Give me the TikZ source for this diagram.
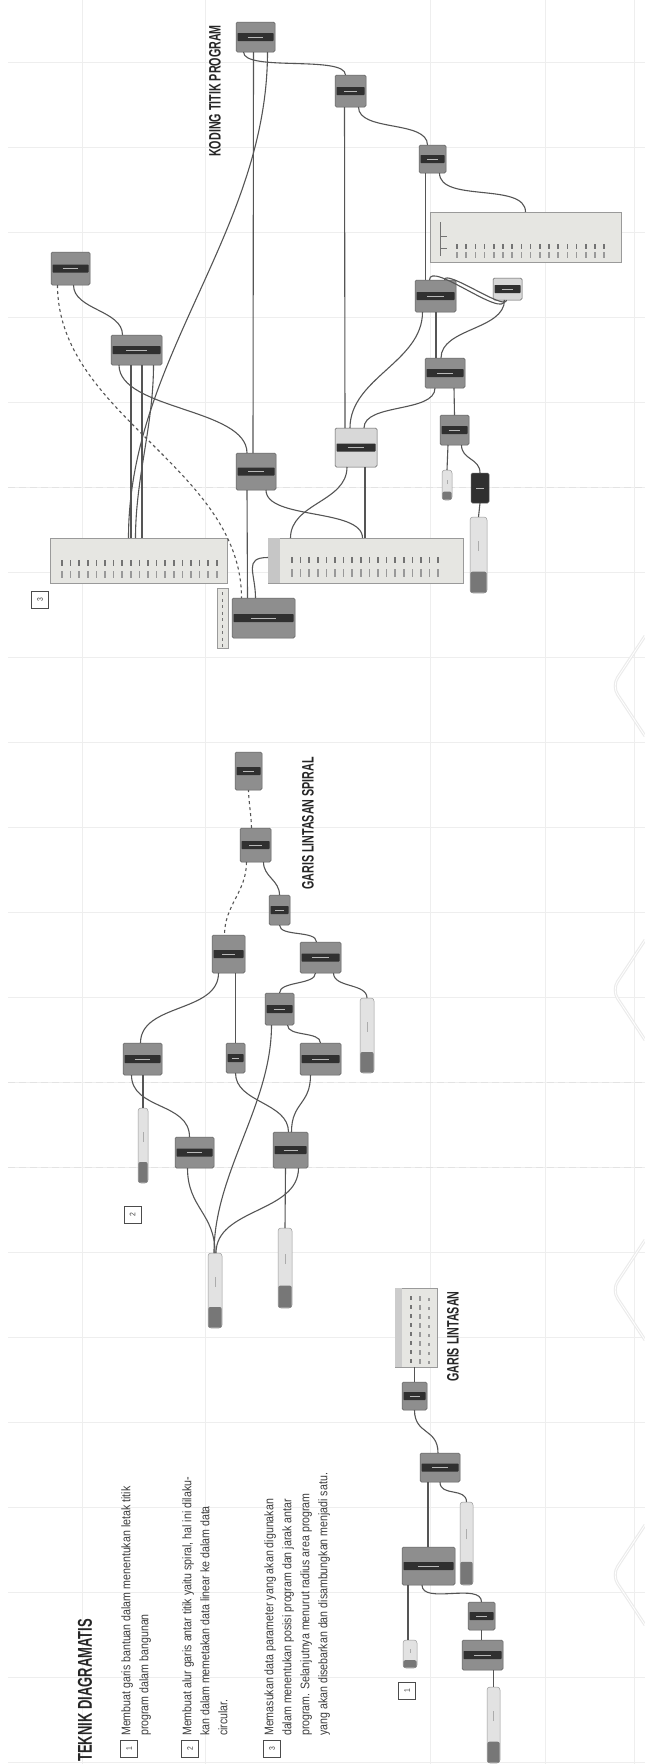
\documentclass[tikz,border=0pt]{standalone}
\usepackage{fontspec}
\setmainfont{Liberation Sans}
\newfontfamily\tegakfont[FakeStretch=0.65]{Liberation Sans}
\newfontfamily\isifont[FakeStretch=0.85]{Liberation Sans}
\usepackage{tikz}
\usetikzlibrary{calc}
\definecolor{ckabel}{HTML}{555555}
\definecolor{ckomp}{HTML}{8E8E8E}
\definecolor{ckompg}{HTML}{5E5E5E}
\definecolor{ckompl}{HTML}{D8D8D8}
\definecolor{cbar}{HTML}{303030}
\definecolor{cpanel}{HTML}{E6E6E2}
\definecolor{cpanelg}{HTML}{9A9A9A}
\definecolor{cgeser}{HTML}{E2E2E2}
\definecolor{cgeserd}{HTML}{777777}
\definecolor{cgaris}{HTML}{EEEEEE}
\definecolor{cteks}{HTML}{3C3C3C}
\tikzset{
  komp/.style={rectangle, rounded corners=1.5pt, draw=ckompg, fill=ckomp, line width=0.5pt, inner sep=0pt, outer sep=0pt},
  kompl/.style={komp, fill=ckompl},
  kompd/.style={komp, fill=cbar},
  bilah/.style={fill=cbar, rounded corners=0.6pt},
  tanda/.style={draw=gray!55, line width=1pt},
  tandag/.style={draw=gray!65, line width=1pt},
  tandap/.style={draw=black!55, line width=1.5pt},
  geser/.style={rectangle, rounded corners=3pt, draw=cpanelg, fill=cgeser, line width=0.5pt, inner sep=0pt, outer sep=0pt},
  panel/.style={rectangle, draw=cpanelg, fill=cpanel, line width=0.5pt, inner sep=0pt, outer sep=0pt},
  kabel/.style={draw=ckabel, line width=1.1pt, to path={.. controls +(0,#1) and +(0,-#1) .. (\tikztotarget)}},
  kabel/.default=25,
  garis/.style={draw=cgaris, line width=0.6pt},
  garisp/.style={draw=gray!22, line width=0.7pt, dash pattern=on 7pt off 4pt},
  hiasan/.style={draw=gray!16, line width=3pt, rounded corners=10pt},
  judul/.style={font=\tegakfont\bfseries\fontsize{20}{20}\selectfont, text=black!85, rotate=90, anchor=west, inner sep=0pt},
  judulkecil/.style={font=\tegakfont\bfseries\fontsize{16.5}{16.5}\selectfont, text=black!85, rotate=90, anchor=west, inner sep=0pt},
  uraian/.style={font=\isifont\fontsize{12.5}{18}\selectfont, text=cteks, rotate=90, anchor=north west, inner sep=0pt, align=left},
  kotaknomor/.style={rectangle, draw=black!70, line width=0.6pt, minimum size=17pt, inner sep=0pt, font=\isifont\fontsize{8}{8}\selectfont, text=black!75, rotate=90},
}
\newcommand{\komp}[6][komp]{%
  \node[#1, minimum width={(#5-#3)*1pt}, minimum height={(#6-#4)*1pt}] (#2) at ({(#3+#5)/2},{(#4+#6)/2}) {};
  \fill[bilah] ([xshift=1.5pt,yshift=-4pt]#2.west) rectangle ([xshift=-1.5pt,yshift=4pt]#2.east);
  \draw[tanda] ([xshift={-0.2*(#5-#3)*1pt}]#2.center) -- ([xshift={0.2*(#5-#3)*1pt}]#2.center);
}
\newcommand{\penggeser}[5]{%
  \node[geser, minimum width={(#4-#2)*1pt}, minimum height={(#5-#3)*1pt}] (#1) at ({(#2+#4)/2},{(#3+#5)/2}) {};
  \fill[cgeserd, rounded corners=2pt] ([xshift=0.3pt,yshift=0.3pt]#1.south west) rectangle ([xshift=-0.3pt,yshift={0.28*(#5-#3)*1pt}]#1.south east);
  \draw[tandag] ([yshift={0.55*(#5-#3)*1pt}]#1.south) -- ([yshift={0.68*(#5-#3)*1pt}]#1.south);
}
\newcommand{\panelnode}[5]{%
  \node[panel, minimum width={(#4-#2)*1pt}, minimum height={(#5-#3)*1pt}] (#1) at ({(#2+#4)/2},{(#3+#5)/2}) {};
}

\begin{document}
\begin{tikzpicture}[x=1pt, y=-1pt]
  \useasboundingbox (0,0) rectangle (645,1764);
  \fill[white] (0,0) rectangle (645,1764);
  % latar
  \foreach \gy in {62,147,...,1762} \draw[garis] (8,\gy) -- (645,\gy);
  \foreach \gx in {82,205,430,545,634} \draw[garis] (\gx,0) -- (\gx,1764);
  \foreach \gy in {487,1082,1167} \draw[garisp] (8,\gy) -- (645,\gy);
  \foreach \cy in {686,990,1290,1575} {
    \draw[hiasan] (645,\cy-50) -- (612,\cy) -- (645,\cy+50);
    \draw[white, line width=0.8pt, rounded corners=10pt] (645,\cy-50) -- (612,\cy) -- (645,\cy+50);
  }

  % KODING TITIK PROGRAM
  \komp{n1}{236}{22}{275}{52}
  \komp{n2}{335}{75}{366}{107}
  \komp{n3}{419}{145}{446}{173}
  \panelnode{p1}{430}{212}{621}{262}
  \draw[tandap, line width=0.6pt] (440,222) -- (440,256) (440,236) -- (447,236) (440,248) -- (447,248);
  \foreach \kol in {0,...,16} {
    \draw[tandap] (457+9.2*\kol,244) -- ++(0,5);
    \draw[tandap, draw=black!40] (457+9.2*\kol,252) -- ++(0,6);
  }
  \komp[kompl]{n4}{493}{278}{522}{300}
  \komp{n5}{415}{280}{456}{312}
  \komp{n6}{425}{358}{465}{388}
  \komp{n7}{440}{415}{469}{445}
  \penggeser{s1}{442}{470}{452}{500}
  \komp[kompd]{n8}{471}{473}{489}{503}
  \penggeser{s2}{470}{517}{487}{593}
  \komp[kompl]{nl}{335}{428}{377}{467}
  \komp{n9}{236}{453}{276}{490}
  \komp{n10}{51}{252}{90}{285}
  \komp{n11}{111}{335}{162}{365}
  \panelnode{t1}{50}{538}{227}{583}
  \panelnode{t2}{268}{538}{463}{583}
  \fill[gray!45] (t2.north west) rectangle ([xshift=12pt]t2.south west);
  \foreach \kol in {0,...,17} {
    \draw[tandap] (292+8.6*\kol,557) -- ++(0,6);
    \draw[tandap, draw=black!40] (292+8.6*\kol,569) -- ++(0,8);
  }
  \foreach \kol in {0,...,18} {
    \draw[tandap] (62+8.6*\kol,560) -- ++(0,6);
    \draw[tandap, draw=black!40] (62+8.6*\kol,571) -- ++(0,7);
  }
  \komp{nb}{232}{598}{295}{638}
  \node[panel, minimum width=11pt, minimum height=60pt] (nbket) at (222.5,618) {};
  \foreach \kol in {0,...,8} \draw[tandap, line width=1pt] (222.5,592+6.5*\kol) -- ++(0,3);
  \node[kotaknomor] (no3) at (40,600) {3};
  \node[judulkecil] (lbkoding) at (215,157) {KODING TITIK PROGRAM};

  \draw[kabel=20] ([xshift=-12pt]n1.south) to ([xshift=-5pt]n2.north);
  \draw[kabel] ([xshift=-2pt]n1.south) -- ([xshift=-3pt]n9.north);
  \draw[kabel=180] ([xshift=12pt]n1.south) to ([xshift=-10pt]t1.north);
  \draw[kabel] ([xshift=-6pt]n2.south) -- ([xshift=-11pt]nl.north);
  \draw[kabel=25] ([xshift=8pt]n2.south) to ([xshift=-5pt]n3.north);
  \draw[kabel] ([xshift=-7pt]n3.south) -- ([xshift=-10pt]n5.north);
  \draw[kabel=30] ([xshift=7pt]n3.south) to (p1.north);
  \draw[kabel=-20] ([xshift=-6pt]n5.north) to ([xshift=-3pt]n4.south);
  \draw[kabel=-12] ([xshift=9pt]n5.north) to ([xshift=-1pt]n4.south);
  \draw[kabel=-30] ([xshift=-4pt]n6.north) to ([xshift=-3pt]n4.south);
  \draw[kabel] ([xshift=0.5pt]n5.south) -- ([xshift=-9pt]n6.north);
  \draw[kabel=50] ([xshift=-13pt]n5.south) to ([xshift=-6pt]nl.north);
  \draw[kabel=25] ([xshift=-10pt]n6.south) to ([xshift=8pt]nl.north);
  \draw[kabel] ([xshift=9pt]n6.south) -- (n7.north);
  \draw[kabel] ([xshift=-6.5pt]n7.south) -- (s1.north);
  \draw[kabel=15] ([xshift=7pt]n7.south) to (n8.north);
  \draw[kabel] (n8.south) -- (s2.north);
  \draw[kabel=35] ([xshift=-9pt]nl.south) to ([xshift=-75pt]t2.north);
  \draw[kabel] ([xshift=9pt]nl.south) -- ([xshift=-0.5pt]t2.north);
  \draw[kabel=30] ([xshift=10pt]n9.south) to ([xshift=-3pt]t2.north);
  \draw[kabel] ([xshift=-9pt]n9.south) -- ([xshift=-16pt]nb.north);
  \draw[kabel] ([yshift=3pt]t2.west) .. controls +(-25,0) and +(0,-25) .. ([xshift=-8pt]nb.north);
  \draw[kabel=130, dashed] ([xshift=-13pt]n10.south) to ([xshift=-22pt]nb.north);
  \draw[kabel=25] ([xshift=3pt]n10.south) to ([xshift=-14pt]n11.north);
  \draw[kabel=-45] ([xshift=-9pt]n9.north) to ([xshift=-17.5pt]n11.south);
  \draw[kabel] ([xshift=-5.5pt]n11.south) -- ([xshift=-7.5pt]t1.north);
  \draw[kabel] ([xshift=5.5pt]n11.south) -- ([xshift=3.5pt]t1.north);
  \draw[kabel=60] ([xshift=17pt]n11.south) to ([xshift=-3pt]t1.north);

  % GARIS LINTASAN SPIRAL
  \komp{d1}{235}{752}{262}{790}
  \komp{d2}{240}{828}{271}{862}
  \komp{d3}{269}{895}{290}{925}
  \komp{d4}{212}{935}{245}{973}
  \komp{d5}{300}{942}{341}{973}
  \komp{d6}{265}{993}{294}{1025}
  \penggeser{sl1}{360}{998}{374}{1073}
  \komp{d7}{123}{1043}{162}{1075}
  \komp{d8}{226}{1043}{245}{1073}
  \komp{d9}{300}{1043}{341}{1075}
  \penggeser{sl2}{138}{1108}{148}{1183}
  \komp{d10}{175}{1137}{214}{1168}
  \komp{d11}{273}{1132}{308}{1168}
  \penggeser{sl3}{208}{1253}{222}{1328}
  \penggeser{sl4}{278}{1228}{292}{1308}
  \node[kotaknomor] (no2) at (132.5,1214.5) {2};
  \node[judulkecil] (lbspiral) at (308,890) {GARIS LINTASAN SPIRAL};

  \draw[kabel=-10, dashed] ([xshift=-4pt]d2.north) to (d1.south);
  \draw[kabel=30, dashed] ([xshift=-9pt]d2.south) to ([xshift=-4pt]d4.north);
  \draw[kabel=15] ([xshift=8pt]d2.south) to (d3.north);
  \draw[kabel=12] (d3.south) to ([xshift=-4pt]d5.north);
  \draw[kabel=40] ([xshift=-10pt]d4.south) to ([xshift=-2pt]d7.north);
  \draw[kabel, line width=1.8pt] ([xshift=7pt]d4.south) -- (d8.north);
  \draw[kabel=12] ([xshift=-5pt]d5.south) to (d6.north);
  \draw[kabel=15] ([xshift=13pt]d5.south) to (sl1.north);
  \draw[kabel=12] ([xshift=8pt]d6.south) to (d9.north);
  \draw[kabel=80] ([xshift=-8pt]d6.south) to ([xshift=-1pt]sl3.north);
  \draw[kabel=35] ([xshift=-11pt]d7.south) to ([xshift=-5pt]d10.north);
  \draw[kabel] ([xshift=0.5pt]d7.south) -- (sl2.north);
  \draw[kabel=30] (d8.south) to ([xshift=-2pt]d11.north);
  \draw[kabel=30] ([xshift=-10pt]d9.south) to ([xshift=1pt]d11.north);
  \draw[kabel=40] ([xshift=-7pt]d10.south) to (sl3.north);
  \draw[kabel] ([xshift=-5pt]d11.south) -- (sl4.north);
  \draw[kabel=45] ([xshift=8pt]d11.south) to ([xshift=1pt]sl3.north);

  % GARIS LINTASAN
  \panelnode{e1}{395}{1288}{437}{1367}
  \fill[gray!40] (e1.north west) rectangle ([xshift=7pt]e1.south west);
  \foreach \kol in {0,...,7} {
    \draw[tandap, line width=1.2pt] (411,1296+9*\kol) -- ++(0,4);
    \draw[tandap, line width=1.2pt, draw=black!40] (420,1296+9*\kol) -- ++(0,5);
    \draw[tandap, line width=1.2pt, draw=black!40] (429,1298+9*\kol) -- ++(0,3);
  }
  \komp{e2}{402}{1382}{427}{1410}
  \komp{e3}{420}{1453}{460}{1482}
  \penggeser{se1}{460}{1502}{473}{1585}
  \komp{e4}{402}{1547}{455}{1585}
  \penggeser{se2}{403}{1640}{417}{1668}
  \komp{e5}{468}{1602}{495}{1630}
  \komp{e6}{462}{1640}{503}{1670}
  \penggeser{se3}{487}{1687}{500}{1763}
  \node[kotaknomor] (no1) at (407,1690.5) {1};
  \node[judulkecil] (lbgaris) at (453,1382) {GARIS LINTASAN};

  \draw[kabel] (e2.north) -- ([xshift=-1.5pt]e1.south);
  \draw[kabel=25] (e2.south) to ([xshift=-2pt]e3.north);
  \draw[kabel] ([xshift=-12pt]e3.south) -- ([xshift=-0.5pt]e4.north);
  \draw[kabel=15] (e3.south) to (se1.north);
  \draw[kabel] ([xshift=-20.5pt]e4.south) -- ([xshift=-2pt]se2.north);
  \draw[kabel=20] ([xshift=-6.5pt]e4.south) to (e5.north);
  \draw[kabel] (e5.south) -- ([xshift=-1pt]e6.north);
  \draw[kabel] ([xshift=11pt]e6.south) -- (se3.north);

  % TEKNIK DIAGRAMATIS
  \node[judul] (judul) at (85,1762) {TEKNIK DIAGRAMATIS};
  \node[kotaknomor] (b1) at (129,1749) {1};
  \node[uraian] (teks1) at (121,1736) {Membuat garis bantuan dalam menentukan letak titik\\ program dalam bangunan};
  \node[kotaknomor] (b2) at (190,1749) {2};
  \node[uraian] (teks2) at (182,1736) {Membuat alur garis antar titik yaitu spiral, hal ini dilaku-\\ kan dalam memetakan data linear ke dalam data\\ circular.};
  \node[kotaknomor] (b3) at (272,1749) {3};
  \node[uraian] (teks3) at (264,1736) {Memasukan data parameter yang akan digunakan\\ dalam menentukan posisi program dan jarak antar\\ program. Selanjutnya menurut radius area program\\ yang akan disebarkan dan disambungkan menjadi satu.};
\end{tikzpicture}
\end{document}
